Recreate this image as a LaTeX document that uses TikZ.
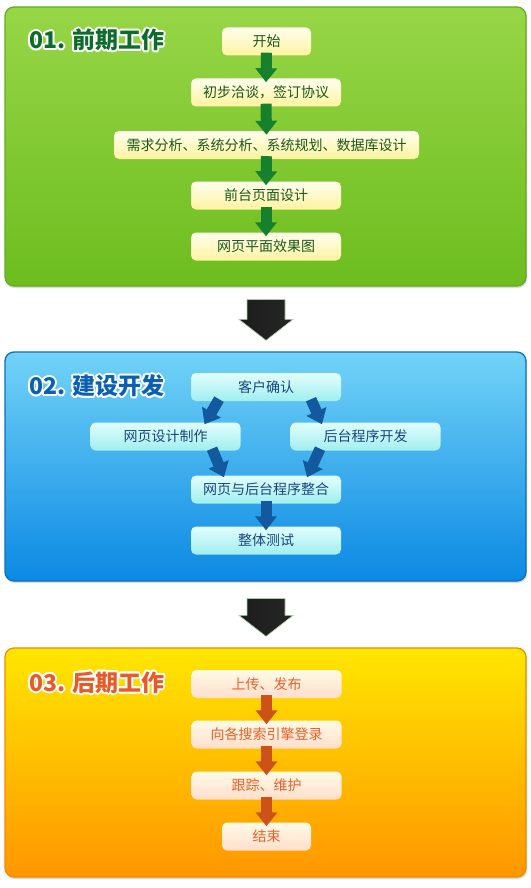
\documentclass[tikz,border=0pt]{standalone}
\usepackage{fontspec}
\setmainfont{Noto Sans CJK SC}
\usetikzlibrary{arrows.meta,calc}
\definecolor{gtop}{HTML}{97D647}
\definecolor{gbot}{HTML}{6DBD1F}
\definecolor{gline}{HTML}{64AC1C}
\definecolor{btop}{HTML}{72D3F7}
\definecolor{bbot}{HTML}{0B89E3}
\definecolor{bline}{HTML}{0A6FC2}
\definecolor{otop}{HTML}{FFE600}
\definecolor{obot}{HTML}{FF9600}
\definecolor{oline}{HTML}{F48A00}
\definecolor{gboxtop}{HTML}{FFFFEE}
\definecolor{gboxbot}{HTML}{FDF3A0}
\definecolor{bboxtop}{HTML}{E2FEFE}
\definecolor{bboxbot}{HTML}{A0EEEE}
\definecolor{oboxtop}{HTML}{FFFBE6}
\definecolor{oboxbot}{HTML}{FFDECC}
\definecolor{gtext}{HTML}{1C581C}
\definecolor{btext}{HTML}{17477E}
\definecolor{otext}{HTML}{E8602A}
\definecolor{gtitle}{HTML}{0D6B2B}
\definecolor{btitle}{HTML}{0B5FB4}
\definecolor{otitle}{HTML}{E85A28}
\definecolor{garrow}{HTML}{17802C}
\definecolor{barrow}{HTML}{12599F}
\definecolor{oarrow}{HTML}{CC5218}
\definecolor{darkA}{HTML}{1C1C1C}
\definecolor{darkB}{HTML}{5A5A5A}
\definecolor{darkC}{HTML}{262626}
\definecolor{darkedge}{HTML}{A8D0A8}
\newcommand\hcopy[3]{\rlap{\hspace*{#1}\raisebox{#2}{#3}}}
\newcommand\haloed[3]{%
\foreach \hx/\hy in {1.8/0,1.56/0.9,0.9/1.56,0/1.8,-0.9/1.56,-1.56/0.9,-1.8/0,-1.56/-0.9,-0.9/-1.56,0/-1.8,0.9/-1.56,1.56/-0.9}{\hcopy{\hx pt}{\hy pt}{\color{#1}#3}}%
{\color{#2}#3}}
\begin{document}
\begin{tikzpicture}[x=1pt,y=-1pt,
  panel/.style={rounded corners=9pt, line width=1.3pt, minimum width=521pt, inner sep=0pt,
    preaction={fill=black!14, transform canvas={shift={(0.8pt,-2pt)}}}},
  titletext/.style={anchor=west, inner sep=0pt, font=\fontsize{23}{23}\selectfont\bfseries},
  boxbase/.style={rounded corners=5pt, minimum height=28pt, inner sep=0pt, font=\fontsize{14}{16}\selectfont},
  gbox/.style={boxbase, top color=gboxtop, bottom color=gboxbot, text=gtext},
  bbox/.style={boxbase, top color=bboxtop, bottom color=bboxbot, text=btext},
  obox/.style={boxbase, top color=oboxtop, bottom color=oboxbot, text=otext},
  sarrow/.style={draw=#1, line width=11pt, -{Triangle[width=21pt,length=14pt]}},
  bigarrow/.style={left color=darkA, middle color=darkB, right color=darkC, draw=darkedge, line width=0.6pt}
]
\useasboundingbox[fill=white] (0,0) rectangle (530,888);

% panels
\node[panel, minimum height=279pt, top color=gtop, bottom color=gbot, draw=gline] (p1) at (265.5,146.5) {};
\node[panel, minimum height=229pt, top color=btop, bottom color=bbot, draw=bline] (p2) at (265.5,466.5) {};
\node[panel, minimum height=229pt, top color=otop, bottom color=obot, draw=oline] (p3) at (265.5,762.5) {};

% titles
\node[titletext] (t1) at (29,40) {\haloed{white}{gtitle}{01. 前期工作}};
\node[titletext] (t2) at (29,386) {\haloed{white}{btitle}{02. 建设开发}};
\node[titletext] (t3) at (29,682.5) {\haloed{white}{otitle}{03. 后期工作}};

% panel 1 boxes
\node[gbox, minimum width=89pt] (ks) at (266.5,41.5) {开始};
\node[gbox, minimum width=150pt] (cb) at (266,92.5) {初步洽谈，签订协议};
\node[gbox, minimum width=305pt] (xq) at (266.5,145) {需求分析、系统分析、系统规划、数据库设计};
\node[gbox, minimum width=150pt] (qt) at (266,195.5) {前台页面设计};
\node[gbox, minimum width=150pt] (wy) at (266,246.5) {网页平面效果图};

% panel 2 boxes
\node[bbox, minimum width=150pt] (kh) at (266,387) {客户确认};
\node[bbox, minimum width=150pt] (wd) at (165.5,436.5) {网页设计制作};
\node[bbox, minimum width=150pt] (ht) at (365.5,436.5) {后台程序开发};
\node[bbox, minimum width=150pt] (zh) at (266,489.5) {网页与后台程序整合};
\node[bbox, minimum width=150pt] (zt) at (266,540.5) {整体测试};

% panel 3 boxes
\node[obox, minimum width=150pt] (sc) at (266.5,684) {上传、发布};
\node[obox, minimum width=150pt] (xg) at (266.5,734.5) {向各搜索引擎登录};
\node[obox, minimum width=150pt] (gz) at (266.5,785.5) {跟踪、维护};
\node[obox, minimum width=89pt] (js) at (266.5,836.5) {结束};

% small arrows panel 1
\draw[sarrow=garrow] ($(ks.south)+(0,-3)$) -- ($(cb.north)+(0,4)$);
\draw[sarrow=garrow] ($(cb.south)+(0,-3)$) -- ($(xq.north)+(0,4)$);
\draw[sarrow=garrow] ($(xq.south)+(0,-3)$) -- ($(qt.north)+(0,4)$);
\draw[sarrow=garrow] ($(qt.south)+(0,-3)$) -- ($(wy.north)+(0,4)$);

% small arrows panel 2
\draw[sarrow=barrow] ($(kh.south)+(-47,-2)$) -- ($(wd.north)+(39,2)$);
\draw[sarrow=barrow] ($(kh.south)+(45,-2)$) -- ($(ht.north)+(-43.5,2)$);
\draw[sarrow=barrow] ($(wd.south)+(46.5,-2)$) -- ($(zh.north)+(-42,2)$);
\draw[sarrow=barrow] ($(ht.south)+(-45.5,-2)$) -- ($(zh.north)+(41,2)$);
\draw[sarrow=barrow] ($(zh.south)+(0,-3)$) -- ($(zt.north)+(0,4)$);

% small arrows panel 3
\draw[sarrow=oarrow] ($(sc.south)+(0,-3)$) -- ($(xg.north)+(0,4)$);
\draw[sarrow=oarrow] ($(xg.south)+(0,-3)$) -- ($(gz.north)+(0,4)$);
\draw[sarrow=oarrow] ($(gz.south)+(0,-3)$) -- ($(js.north)+(0,4)$);

% big arrows between panels
\coordinate (b1s) at ($(p1.south)+(0.5,13)$);
\coordinate (b1e) at ($(p2.north)+(0.5,-11)$);
\path[bigarrow] ($(b1s)+(-19,0)$) -- ($(b1s)+(19,0)$) -- ($(b1e)+(19,-21)$) -- ($(b1e)+(27,-21)$) -- (b1e) -- ($(b1e)+(-27,-21)$) -- ($(b1e)+(-19,-21)$) -- cycle;
\coordinate (b2s) at ($(p2.south)+(0.5,17)$);
\coordinate (b2e) at ($(p3.north)+(0.5,-11)$);
\path[bigarrow] ($(b2s)+(-19,0)$) -- ($(b2s)+(19,0)$) -- ($(b2e)+(19,-21)$) -- ($(b2e)+(27,-21)$) -- (b2e) -- ($(b2e)+(-27,-21)$) -- ($(b2e)+(-19,-21)$) -- cycle;
\end{tikzpicture}
\end{document}
